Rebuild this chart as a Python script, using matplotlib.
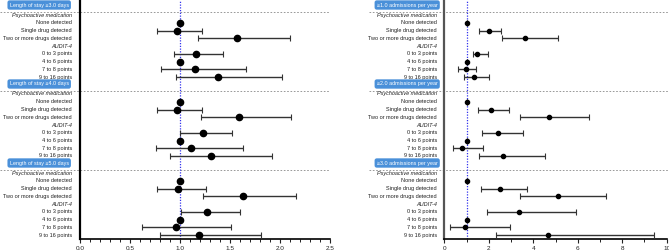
import numpy as np
import matplotlib
matplotlib.use("Agg")
import matplotlib.pyplot as plt
from matplotlib.ticker import MultipleLocator, FormatStrFormatter
from matplotlib.transforms import blended_transform_factory

plt.rcParams['font.family'] = ['Liberation Sans', 'DejaVu Sans']

row_labels = ["Psychoactive medication", "None detected", "Single drug detected",
              "Two or more drugs detected", "AUDIT-4", "0 to 3 points",
              "4 to 6 points", "7 to 8 points", "9 to 16 points"]
italic_rows = [0, 4]
data_rows = [1, 2, 3, 5, 6, 7, 8]

left_titles = ["Length of stay \u22653.0 days", "Length of stay \u22654.0 days",
               "Length of stay \u22655.0 days"]
right_titles = ["\u22651.0 admissions per year", "\u22652.0 admissions per year",
                "\u22653.0 admissions per year"]

# odds ratios per panel, order follows data_rows
left_or = [[1.0, 0.97, 1.57, 1.16, 1.0, 1.15, 1.38],
           [1.0, 0.97, 1.59, 1.23, 1.0, 1.11, 1.31],
           [1.0, 0.98, 1.63, 1.27, 1.0, 0.96, 1.19]]
left_lo = [[np.nan, 0.77, 1.18, 0.94, np.nan, 0.81, 0.96],
           [np.nan, 0.77, 1.21, 1.00, np.nan, 0.76, 0.90],
           [np.nan, 0.77, 1.23, 1.01, np.nan, 0.62, 0.80]]
left_hi = [[np.nan, 1.22, 2.10, 1.43, np.nan, 1.66, 2.02],
           [np.nan, 1.22, 2.11, 1.52, np.nan, 1.63, 1.92],
           [np.nan, 1.26, 2.16, 1.60, np.nan, 1.51, 1.81]]

right_or = [[1.0, 2.03, 3.64, 1.49, 1.0, 0.98, 1.35],
            [1.0, 2.12, 4.72, 2.43, 1.0, 0.80, 2.66],
            [1.0, 2.49, 5.11, 3.36, 1.0, 0.93, 4.66]]
right_lo = [[np.nan, 1.58, 2.58, 1.28, np.nan, 0.63, 0.90],
            [np.nan, 1.53, 3.41, 1.68, np.nan, 0.38, 1.55],
            [np.nan, 1.67, 3.42, 1.91, np.nan, 0.27, 2.31]]
right_hi = [[np.nan, 2.57, 5.11, 1.98, np.nan, 1.43, 2.03],
            [np.nan, 2.90, 6.52, 3.53, np.nan, 1.76, 4.55],
            [np.nan, 3.71, 7.25, 5.90, np.nan, 2.96, 9.41]]

W, H = 669, 250
fig = plt.figure(figsize=(W / 100, H / 100), dpi=100)

box_color = "#4a90d9"
row_step = 7.75
panel_step = 79


def row_y(p, r):
    return 15 + row_step * r + panel_step * p


def draw_panel(rect, ors, los, his, titles, xmax, major, minor, spine_color,
               msize, label_x, box_x, dash_x0, dash_x1):
    ax = fig.add_axes(rect)
    trans = blended_transform_factory(ax.transAxes, ax.transData)
    for p in range(3):
        ys = [row_y(p, r) for r in data_rows]
        o = np.array(ors[p])
        lo = np.array(los[p])
        hi = np.array(his[p])
        err = np.nan_to_num(np.vstack([o - lo, hi - o]))
        ax.errorbar(o, ys, xerr=err, fmt="o", color="black", ecolor="#333333",
                    elinewidth=1.0, capsize=2.0, capthick=0.8, markersize=msize,
                    zorder=3)
        for r, lab in enumerate(row_labels):
            ax.text(label_x, row_y(p, r), lab, transform=trans, ha="right",
                    va="center", fontsize=4.0,
                    style="italic" if r in italic_rows else "normal",
                    color="#222222")
        ax.text(box_x, 5 + panel_step * p, titles[p], transform=trans,
                ha="right", va="center", fontsize=3.9, color="white",
                bbox=dict(boxstyle="round,pad=0.4", fc=box_color, ec="none"))
        ax.plot([dash_x0, dash_x1], [12 + panel_step * p] * 2, transform=trans,
                ls=(0, (2, 2)), color="#888888", lw=0.6, clip_on=False)
    ax.axvline(1.0, color="#3333ee", ls=(0, (1, 1.2)), lw=0.9, zorder=2)
    ax.set_xlim(0, xmax)
    ax.set_ylim(239, 0)
    ax.set_yticks([])
    ax.xaxis.set_major_locator(MultipleLocator(major))
    ax.xaxis.set_minor_locator(MultipleLocator(minor))
    ax.tick_params(axis="x", labelsize=4.6, length=3, width=0.8, pad=2,
                   colors="#222222")
    ax.tick_params(axis="x", which="minor", length=1.8, width=0.6)
    for s in ["top", "right"]:
        ax.spines[s].set_visible(False)
    ax.spines["left"].set_color(spine_color)
    ax.spines["left"].set_linewidth(1.6)
    ax.spines["bottom"].set_linewidth(1.2)
    ax.patch.set_alpha(0)
    return ax


axl = draw_panel([80 / W, 11 / H, 250 / W, 239 / H], left_or, left_lo, left_hi,
                 left_titles, 2.5, 0.5, 0.1, "black", 4.5,
                 -0.032, -0.045, -0.32, 1.0)
axl.xaxis.set_major_formatter(FormatStrFormatter("%.1f"))
axr = draw_panel([444.3 / W, 11 / H, 222.4 / W, 239 / H], right_or, right_lo,
                 right_hi, right_titles, 10, 2, 1, "#555555", 3.0,
                 -0.033, -0.03, -0.34, 1.02)

fig.savefig("out.png", dpi=100)
